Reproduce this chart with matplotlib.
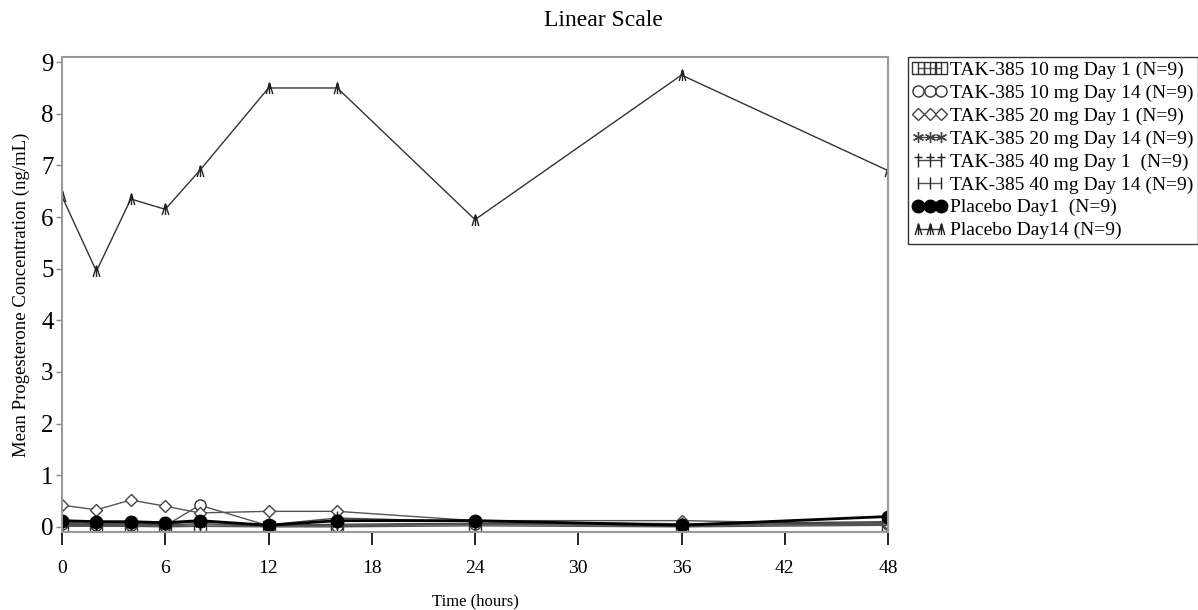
import matplotlib
matplotlib.use("Agg")
import matplotlib.pyplot as plt
from matplotlib.path import Path

plt.rcParams["font.family"] = ["Liberation Serif", "DejaVu Serif"]

# Sampling times (hours)
hours = [0, 2, 4, 6, 8, 12, 16, 24, 36, 48]

# Mean progesterone concentration (ng/mL) per group
tak10_d1 = [0.01, 0.01, 0.01, 0.00, 0.01, 0.00, 0.00, 0.02, 0.00, 0.03]
tak10_d14 = [0.05, 0.04, 0.04, 0.02, 0.42, 0.02, 0.02, 0.05, 0.03, 0.05]
tak20_d1 = [0.42, 0.33, 0.52, 0.40, 0.27, 0.30, 0.30, 0.12, 0.12, 0.05]
tak20_d14 = [0.06, 0.05, 0.06, 0.04, 0.06, 0.03, 0.05, 0.07, 0.04, 0.08]
tak40_d1 = [0.08, 0.07, 0.08, 0.06, 0.10, 0.04, 0.17, 0.10, 0.06, 0.10]
tak40_d14 = [0.03, 0.02, 0.03, 0.02, 0.04, 0.02, 0.03, 0.05, 0.02, 0.06]
placebo_d1 = [0.12, 0.10, 0.10, 0.08, 0.12, 0.03, 0.12, 0.12, 0.03, 0.20]
placebo_d14 = [6.40, 4.95, 6.35, 6.15, 6.90, 8.50, 8.50, 5.95, 8.75, 6.90]

labels = [
    "TAK-385 10 mg Day 1 (N=9)",
    "TAK-385 10 mg Day 14 (N=9)",
    "TAK-385 20 mg Day 1 (N=9)",
    "TAK-385 20 mg Day 14 (N=9)",
    "TAK-385 40 mg Day 1  (N=9)",
    "TAK-385 40 mg Day 14 (N=9)",
    "Placebo Day1  (N=9)",
    "Placebo Day14 (N=9)",
]

x_ticks = [0, 6, 12, 18, 24, 30, 36, 42, 48]
y_ticks = list(range(0, 10))

M, L, C = Path.MOVETO, Path.LINETO, Path.CLOSEPOLY
# square with a vertical bar
box_bar = Path([(-1, -1), (1, -1), (1, 1), (-1, 1), (-1, -1), (0, -1), (0, 1)],
               [M, L, L, L, C, M, L])
# vertical bar with a short cross-bar near the top
dagger = Path([(0, -1), (0, 1), (-0.55, 0.45), (0.55, 0.45)], [M, L, M, L])
# caret with a vertical stem
caret = Path([(-0.6, -1), (0, 1), (0.6, -1), (0, -1), (0, 1)], [M, L, L, M, L])

fig = plt.figure(figsize=(11.98, 6.10), dpi=100)
ax = fig.add_axes([62 / 1198, 1 - 532 / 610, (888 - 62) / 1198, (532 - 57) / 610])

styles = [
    (tak10_d1, dict(marker=box_bar, ms=8, color="#555555", mfc="none", mec="#333333", lw=1.0)),
    (tak10_d14, dict(marker="o", ms=8, color="#555555", mfc="white", mec="#333333", lw=1.0)),
    (tak20_d1, dict(marker="D", ms=6, color="#555555", mfc="white", mec="#444444", lw=1.0)),
    (tak20_d14, dict(marker=(6, 2, 0), ms=8, color="#444444", lw=1.0)),
    (tak40_d1, dict(marker=dagger, ms=10, color="#444444", mec="#222222", lw=1.0)),
    (tak40_d14, dict(marker="|", ms=9, color="#555555", mec="#222222", lw=1.0)),
    (placebo_d1, dict(marker="o", ms=9, color="black", mfc="black", lw=2.0)),
    (placebo_d14, dict(marker=caret, ms=8, color="#333333", mfc="none", mec="#222222", lw=1.0)),
]

for (vals, kw), lab in zip(styles, labels):
    ax.plot(hours, vals, label=lab, **kw)

ax.set_xlim(0, 48)
ax.set_ylim(-0.1, 9.1)
ax.set_xticks(x_ticks)
ax.set_yticks(y_ticks)
ax.tick_params(axis="x", direction="out", length=9, width=1.2, color="black",
               pad=11, labelsize=14)
ax.tick_params(axis="y", direction="out", length=4, width=1.0, color="#888888",
               pad=2, labelsize=18)
for s in ax.spines.values():
    s.set_color("#999999")
    s.set_linewidth(1.5)

ax.set_xlabel("Time (hours)", fontsize=12, labelpad=12)
ax.set_ylabel("Mean Progesterone Concentration (ng/mL)", fontsize=13.5, labelpad=8)
fig.text(603 / 1198, 1 - 20 / 610, "Linear Scale", fontsize=17,
         ha="center", va="center")

leg = fig.legend(loc="upper left", bbox_to_anchor=(908 / 1198, 1 - 57 / 610),
                 bbox_transform=fig.transFigure, borderaxespad=0, numpoints=3,
                 fontsize=14, handlelength=1.8, handletextpad=0.15,
                 labelspacing=0.27, borderpad=0.22, frameon=True, fancybox=False)
leg.get_frame().set_edgecolor("black")
leg.get_frame().set_linewidth(1.0)

fig.savefig("out.png", dpi=100)
